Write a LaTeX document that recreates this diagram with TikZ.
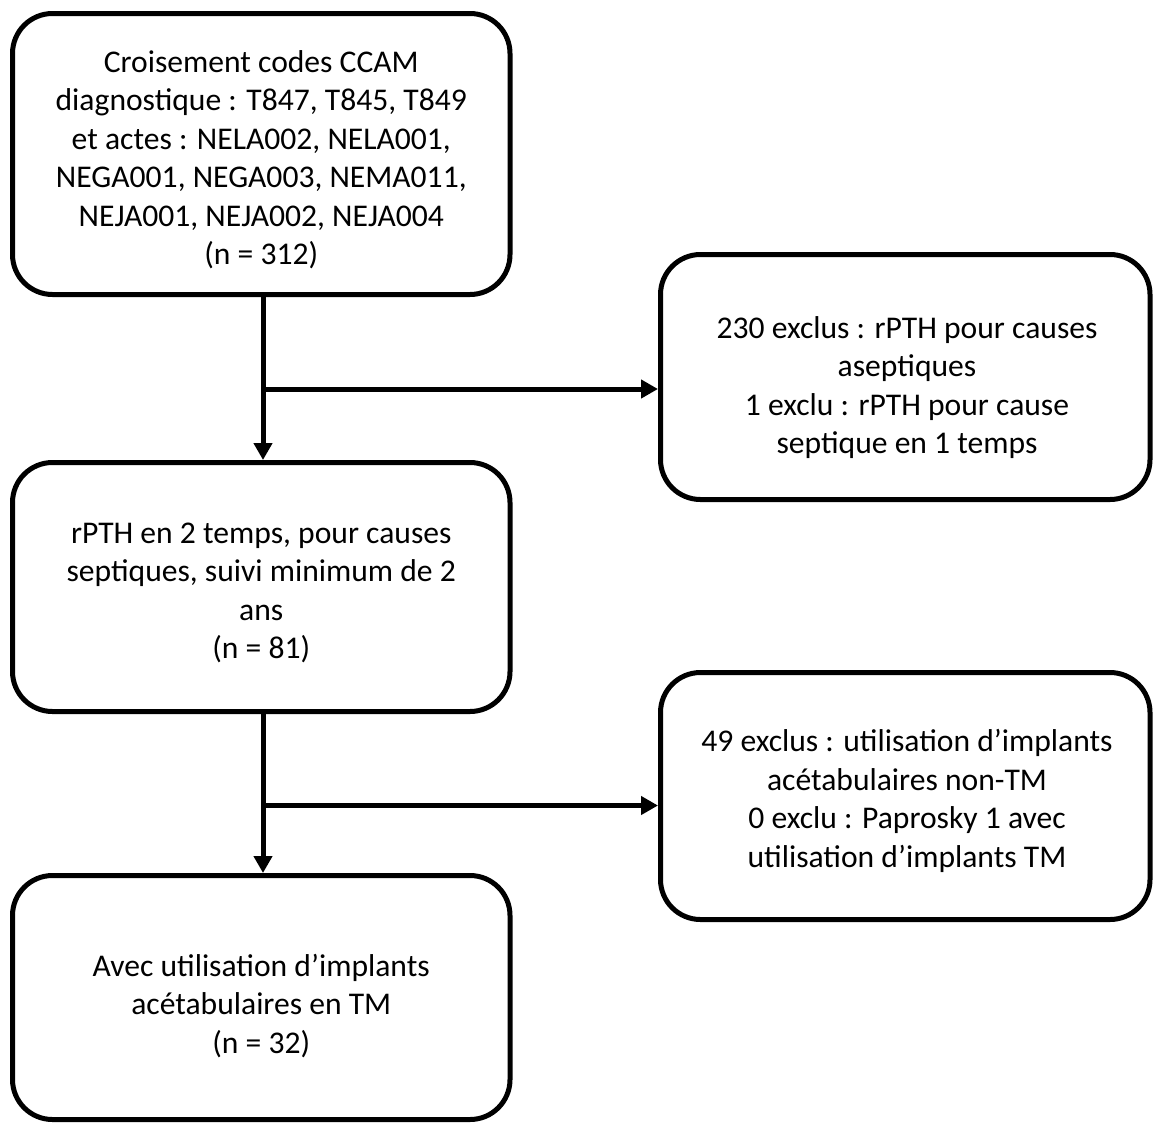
\documentclass[tikz,border=0pt]{standalone}
\usepackage{fontspec}
\setmainfont{Carlito}
\usetikzlibrary{arrows.meta}
\begin{document}
\begin{tikzpicture}[x=1pt,y=-1pt,
  box/.style={draw=black, line width=5pt, rounded corners=40pt, fill=white, inner sep=0pt},
  txt/.style={align=center, font=\fontsize{31.6}{38.5}\selectfont, inner sep=0pt},
  link/.style={line width=5pt, -{Triangle[length=17pt,width=18pt]}},
  plain/.style={line width=5pt}]
\useasboundingbox (0,0) rectangle (1155,1122);
% boxes
\node[box, minimum width=497.5pt, minimum height=281pt] (b1) at (261.25,154) {};
\node[box, minimum width=489.5pt, minimum height=245pt] (b2) at (905.25,377) {};
\node[box, minimum width=497.5pt, minimum height=249pt] (b3) at (261.25,587) {};
\node[box, minimum width=489.5pt, minimum height=247pt] (b4) at (905.25,796) {};
\node[box, minimum width=497.5pt, minimum height=244pt] (b5) at (261.25,997.5) {};
% texts
\node[txt] (t1) at (261.25,159.5) {Croisement codes CCAM\\diagnostique : T847, T845, T849\\et actes : NELA002, NELA001,\\NEGA001, NEGA003, NEMA011,\\NEJA001, NEJA002, NEJA004\\(n = 312)};
\node[txt] (t2) at (907,387.5) {230 exclus : rPTH pour causes\\aseptiques\\1 exclu : rPTH pour cause\\septique en 1 temps};
\node[txt] (t3) at (261.25,593) {rPTH en 2 temps, pour causes\\septiques, suivi minimum de 2\\ans\\(n = 81)};
\node[txt] (t4) at (907,801) {49 exclus : utilisation d’implants\\acétabulaires non-TM\\0 exclu : Paprosky 1 avec\\utilisation d’implants TM};
\node[txt] (t5) at (261.25,1006) {Avec utilisation d’implants\\acétabulaires en TM\\(n = 32)};
% connectors
\coordinate (j1) at (263,389);
\coordinate (j2) at (263,805.5);
\draw[plain] (b1.south -| j1) -- (j1);
\draw[link] (j1) -- (b3.north -| j1);
\draw[link] (j1) -- (j1 -| b2.west);
\draw[plain] (b3.south -| j2) -- (j2);
\draw[link] (j2) -- (b5.north -| j2);
\draw[link] (j2) -- (j2 -| b4.west);
\end{tikzpicture}
\end{document}
